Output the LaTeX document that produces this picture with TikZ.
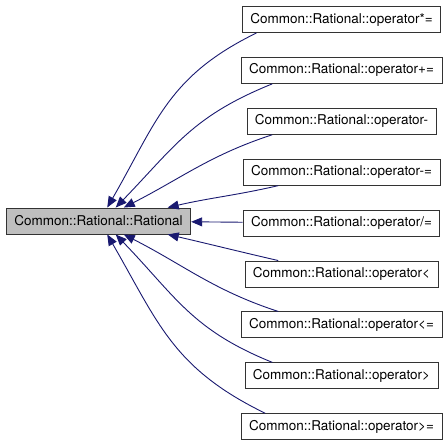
\documentclass[tikz,border=0pt]{standalone}
\usepackage{fontspec}
\setmainfont{TeX Gyre Heros}
\usetikzlibrary{positioning,arrows.meta}
\definecolor{edgeblue}{HTML}{191970}
\definecolor{boxgray}{HTML}{BFBFBF}
\begin{document}
\begin{tikzpicture}[node distance=24pt,
  fn/.style={draw=black!80, line width=0.9pt, minimum height=26pt, inner xsep=8pt, font=\fontsize{13.5pt}{16pt}\selectfont},
  call/.style={draw=edgeblue, line width=0.9pt, -{Triangle[length=11pt,width=9pt]}}]
\useasboundingbox (0pt,0pt) rectangle (448pt,-443pt);
\node (rat) [fn, fill=boxgray] at (98.5pt,-221pt) {Common::Rational::Rational};
\node (mul) [fn] at (341.5pt,-19.5pt) {Common::Rational::operator*=};
\node (add) [fn, below=of mul] {Common::Rational::operator+=};
\node (sub) [fn, below=of add] {Common::Rational::operator-};
\node (subeq) [fn, below=of sub] {Common::Rational::operator-=};
\node (div) [fn, below=of subeq] {Common::Rational::operator/=};
\node (lt) [fn, below=of div] {Common::Rational::operator<};
\node (le) [fn, below=of lt] {Common::Rational::operator<=};
\node (gt) [fn, below=of le] {Common::Rational::operator>};
\node (ge) [fn, below=of gt] {Common::Rational::operator>=};
% callers of the constructor
\draw[call] (mul.189) to[out=206,in=60,looseness=1.1] (rat.57);
\draw[call] (add.191) to[out=202,in=46,looseness=1.1] (rat.38);
\draw[call] (sub.191) to[out=198,in=27] (rat.28);
\draw[call] (subeq.192) to[out=193,in=13] (rat.11);
\draw[call] (div) -- (rat);
\draw[call] (lt.168) to[out=167,in=-13] (rat.-11);
\draw[call] (le.168) to[out=162,in=-27] (rat.-28);
\draw[call] (gt.169) to[out=158,in=-46,looseness=1.1] (rat.-38);
\draw[call] (ge.170) to[out=154,in=-60,looseness=1.1] (rat.-57);
\end{tikzpicture}
\end{document}
